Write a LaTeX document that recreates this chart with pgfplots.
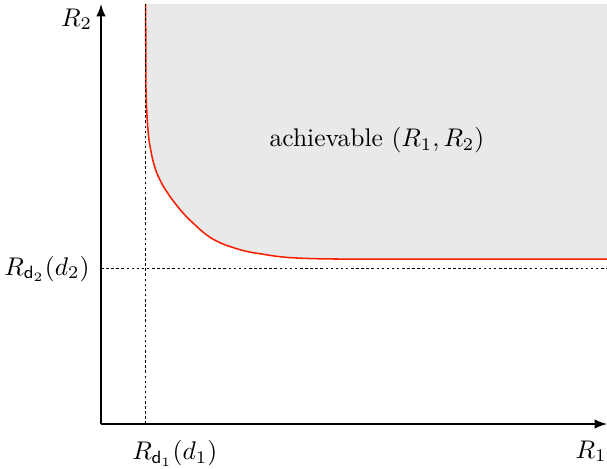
\documentclass[border=0pt]{standalone}
\usepackage{pgfplots}
\pgfplotsset{compat=1.18}

\definecolor{regionfill}{RGB}{233,233,233}
\definecolor{curvered}{RGB}{250,30,0}

\begin{document}
\begin{tikzpicture}
\begin{axis}[
  x=0.392pt, y=0.392pt,
  xmin=0, xmax=506, ymin=0, ymax=420,
  axis lines=left,
  axis line style={line width=0.7pt, -latex},
  xtick={44.4}, xticklabels={$R_{\mathsf{d}_1}(d_1)$},
  ytick={155.3}, yticklabels={$R_{\mathsf{d}_2}(d_2)$},
  xticklabel style={xshift=11.5pt, yshift=-3pt},
  yticklabel style={xshift=-1pt},
  major tick length=0pt,
  xlabel={$R_1$}, ylabel={$R_2$},
  every axis x label/.style={at={(rel axis cs:1,0)}, anchor=north east, inner xsep=0pt, yshift=-3pt},
  every axis y label/.style={at={(rel axis cs:0,1)}, anchor=north east, yshift=1.7pt},
  clip=false,
]
% achievable region, above the boundary
\addplot[fill=regionfill, draw=none, smooth, tension=0.7] coordinates {
  (44.7,420) (44.8,364) (45,334) (45.7,314) (47.3,290.7) (49.7,274)
  (54,256) (60,242) (65.7,232.5) (72.3,223) (82.3,210.7) (92.3,200.7)
  (105.7,189) (119,181.3) (132,176.5) (145.7,172.6) (162.3,169.7)
  (179,167.3) (195.7,166) (215.7,165.3) (235.7,165) (269,164.9) (506,164.9)
} -- (axis cs:506,420) -- (axis cs:44.7,420) -- cycle;
\addplot[draw=curvered, line width=0.6pt, smooth, tension=0.7] coordinates {
  (44.7,420) (44.8,364) (45,334) (45.7,314) (47.3,290.7) (49.7,274)
  (54,256) (60,242) (65.7,232.5) (72.3,223) (82.3,210.7) (92.3,200.7)
  (105.7,189) (119,181.3) (132,176.5) (145.7,172.6) (162.3,169.7)
  (179,167.3) (195.7,166) (215.7,165.3) (235.7,165) (269,164.9) (506,164.9)
};
% thresholds
\addplot[black, line width=0.6pt, dash pattern=on 1pt off 1pt] coordinates {(44.4,0) (44.4,420)};
\addplot[black, line width=0.5pt, dash pattern=on 1pt off 1pt] coordinates {(0,155.3) (506,155.3)};
\node at (axis cs:276,284) {achievable $(R_1,R_2)$};
\coordinate (BL) at (axis cs:-101,-44);
\coordinate (TR) at (axis cs:506,424);
\end{axis}
\pgfresetboundingbox
\path (BL) rectangle (TR);
\end{tikzpicture}
\end{document}
